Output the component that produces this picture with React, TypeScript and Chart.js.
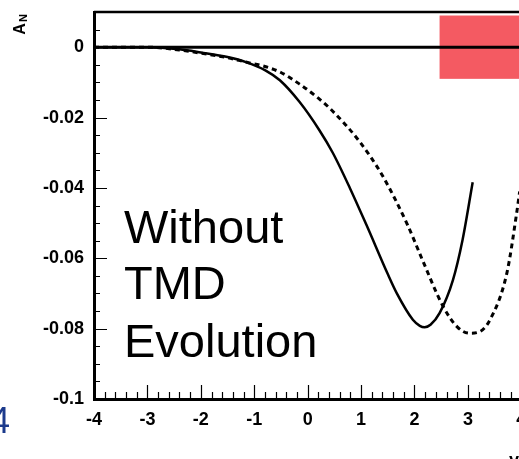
import React, { useEffect, useRef } from "react";
import Chart from "chart.js/auto";

// Rapidity values and single-spin asymmetry A_N
const solidX = [-4, -3, -2.4, -2, -1.5, -1.14, -0.8, -0.52, -0.15, 0.22, 0.47, 0.79, 1.1, 1.5, 1.67, 1.97, 2.1, 2.19, 2.3, 2.47, 2.72, 2.9, 3.09];
const solidY = [0, 0, -0.0006, -0.0015, -0.0028, -0.0043, -0.0065, -0.0094, -0.0156, -0.0236, -0.03, -0.04, -0.0505, -0.0645, -0.07, -0.0775, -0.0792, -0.0796, -0.0789, -0.0756, -0.0662, -0.0548, -0.0384];

const dashedX = [-4, -3, -2.4, -2, -1.5, -1.14, -0.84, -0.5, -0.15, 0.2, 0.47, 0.97, 1.4, 1.87, 2.15, 2.53, 2.8, 3.03, 3.2, 3.41, 3.73, 3.91, 3.97];
const dashedY = [0, 0, -0.0008, -0.0017, -0.003, -0.0043, -0.0053, -0.0072, -0.0105, -0.0145, -0.0182, -0.0268, -0.0365, -0.0505, -0.0605, -0.0735, -0.0795, -0.0813, -0.081, -0.0776, -0.0642, -0.0475, -0.041];

// Shaded band (x from, x to, y low, y high)
const bandX = [2.47, 5];
const bandY = [-0.009, 0.009];

const xTickValues = [-4, -3, -2, -1, 0, 1, 2, 3, 4];
const yTickValues = [-0.1, -0.08, -0.06, -0.04, -0.02, 0];
const annotationLines = ["Without", "TMD", "Evolution"];

const FONT = "'Liberation Sans', Arial, Helvetica, sans-serif";

const toPoints = (xs: number[], ys: number[]) => xs.map((x, i) => ({ x, y: ys[i] }));

const framePlugin = {
  id: "frameDecor",
  beforeDatasetsDraw(chart: any) {
    const { ctx, scales } = chart;
    const xs = scales.x;
    const ys = scales.y;
    const area = chart.chartArea;
    ctx.save();
    ctx.beginPath();
    ctx.rect(area.left, area.top, area.right - area.left, area.bottom - area.top);
    ctx.clip();
    const x0 = xs.getPixelForValue(bandX[0]);
    const x1 = xs.getPixelForValue(bandX[1]);
    const y0 = ys.getPixelForValue(bandY[1]);
    const y1 = ys.getPixelForValue(bandY[0]);
    ctx.fillStyle = "#f45a62";
    ctx.fillRect(x0, y0, x1 - x0, y1 - y0);
    ctx.restore();
  },
  afterDatasetsDraw(chart: any) {
    const { ctx, scales } = chart;
    const xs = scales.x;
    const ys = scales.y;
    const area = chart.chartArea;
    ctx.save();

    // zero line
    const yZero = ys.getPixelForValue(0);
    ctx.strokeStyle = "#000";
    ctx.lineWidth = 3;
    ctx.beginPath();
    ctx.moveTo(area.left, yZero);
    ctx.lineTo(area.right, yZero);
    ctx.stroke();

    // top frame
    ctx.lineWidth = 2.5;
    ctx.beginPath();
    ctx.moveTo(area.left, area.top);
    ctx.lineTo(area.right + 20, area.top);
    ctx.stroke();

    // inward ticks
    ctx.lineWidth = 1.2;
    ctx.beginPath();
    for (let i = 0; i <= 45; i++) {
      const v = -4 + i * 0.2;
      if (v > xs.max + 1e-9) break;
      const px = Math.round(xs.getPixelForValue(v)) + 0.5;
      const major = i % 5 === 0;
      ctx.moveTo(px, area.bottom);
      ctx.lineTo(px, area.bottom - (major ? 14 : 7));
    }
    for (let i = 0; i <= 22; i++) {
      const v = -0.1 + i * 0.005;
      if (v > ys.max + 1e-9) break;
      const py = Math.round(ys.getPixelForValue(v)) + 0.5;
      const major = i % 4 === 0;
      ctx.moveTo(area.left, py);
      ctx.lineTo(area.left + (major ? 13 : 6), py);
    }
    ctx.stroke();

    // annotation text
    ctx.fillStyle = "#000";
    ctx.textAlign = "left";
    ctx.textBaseline = "alphabetic";
    ctx.font = `47px ${FONT}`;
    const baselines = [243, 299, 357];
    annotationLines.forEach((t, i) => ctx.fillText(t, 124, baselines[i]));

    // y axis title A_N (rotated)
    ctx.save();
    ctx.translate(21, 29);
    ctx.rotate(-Math.PI / 2);
    ctx.textAlign = "center";
    ctx.textBaseline = "middle";
    ctx.font = `bold 16px ${FONT}`;
    ctx.fillText("A", 0, 0);
    ctx.font = `bold 11px ${FONT}`;
    ctx.fillText("N", 11, 3);
    ctx.restore();

    // x axis title
    ctx.font = `bold 18px ${FONT}`;
    ctx.textAlign = "left";
    ctx.textBaseline = "top";
    ctx.fillText("y", 509, 452);

    // panel number from neighbouring figure
    ctx.fillStyle = "#1c3a8c";
    ctx.font = `36px ${FONT}`;
    ctx.textBaseline = "alphabetic";
    ctx.fillText("4", -10, 433);

    ctx.restore();
  },
};

export default function App() {
  const canvasRef = useRef<HTMLCanvasElement | null>(null);

  useEffect(() => {
    document.body.style.margin = "0";
    const canvas = canvasRef.current;
    if (!canvas) return;
    const chart = new Chart(canvas, {
      type: "line",
      data: {
        datasets: [
          {
            data: toPoints(solidX, solidY),
            borderColor: "#000",
            borderWidth: 2.5,
            pointRadius: 0,
            cubicInterpolationMode: "monotone",
            fill: false,
          },
          {
            data: toPoints(dashedX, dashedY),
            borderColor: "#000",
            borderWidth: 3,
            borderDash: [5, 4],
            pointRadius: 0,
            cubicInterpolationMode: "monotone",
            fill: false,
          },
        ],
      },
      options: {
        animation: false,
        responsive: false,
        events: [],
        layout: { padding: { top: 12, right: 12, left: 0, bottom: 0 } },
        plugins: { legend: { display: false }, tooltip: { enabled: false } },
        scales: {
          x: {
            type: "linear",
            min: -4,
            max: 4.5,
            afterFit: (s: any) => {
              s.height = 60;
              s.paddingLeft = 0;
              s.paddingRight = 0;
            },
            afterBuildTicks: (s: any) => {
              s.ticks = xTickValues.map((v) => ({ value: v }));
            },
            grid: { display: false, drawTicks: false },
            border: { display: true, color: "#000", width: 3 },
            ticks: {
              padding: 10,
              color: "#000",
              font: { family: FONT, size: 18, weight: "bold" },
              callback: (v: any) => String(v),
            },
          },
          y: {
            type: "linear",
            min: -0.1,
            max: 0.01,
            afterFit: (s: any) => {
              s.width = 94;
              s.paddingTop = 0;
              s.paddingBottom = 0;
            },
            afterBuildTicks: (s: any) => {
              s.ticks = yTickValues.map((v) => ({ value: v }));
            },
            grid: { display: false, drawTicks: false },
            border: { display: true, color: "#000", width: 3 },
            ticks: {
              padding: 10,
              color: "#000",
              font: { family: FONT, size: 18, weight: "bold" },
              callback: (v: any) => String(Number(Number(v).toFixed(2)) || 0),
            },
          },
        },
      },
      plugins: [framePlugin],
    });
    return () => chart.destroy();
  }, []);

  return (
    <div
      style={{
        position: "fixed",
        left: 0,
        top: 0,
        width: 519,
        height: 459,
        overflow: "hidden",
        background: "#fff",
      }}
    >
      <canvas ref={canvasRef} width={560} height={459} style={{ display: "block", width: 560, height: 459 }} />
    </div>
  );
}
